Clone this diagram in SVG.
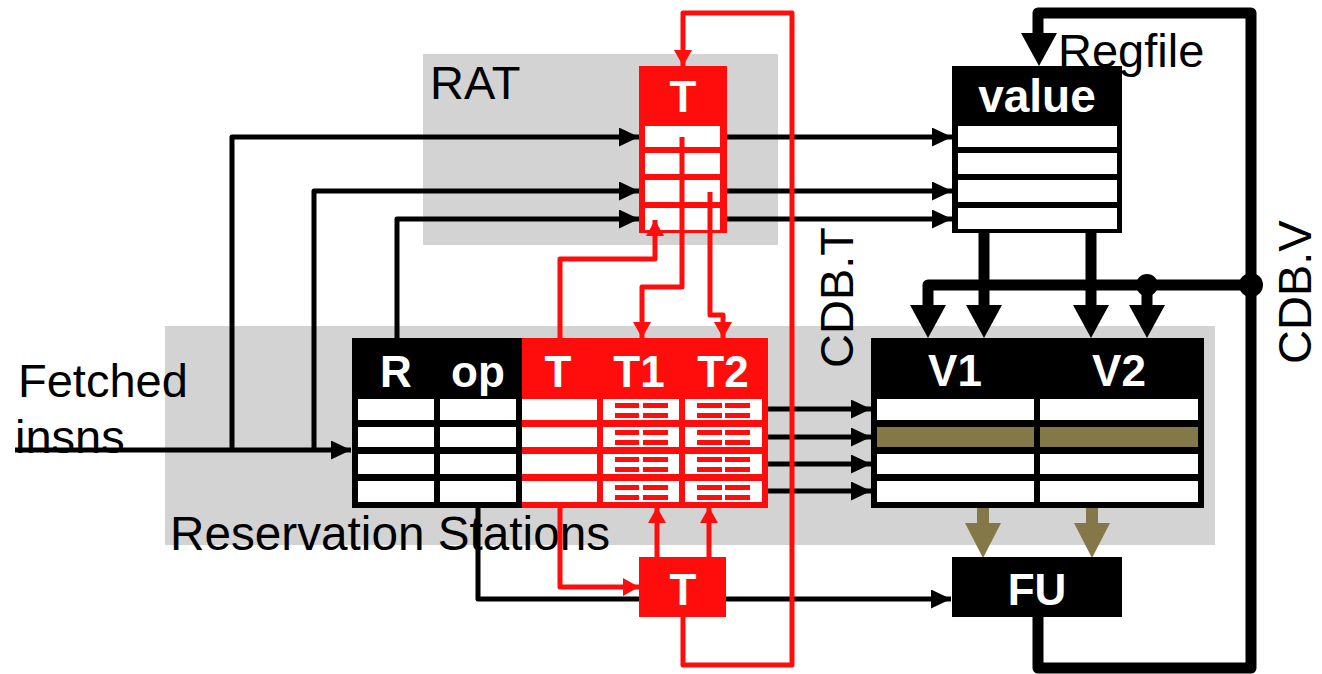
<svg xmlns="http://www.w3.org/2000/svg" width="1322" height="674" viewBox="0 0 1322 674">
<defs>
<style>
.lbl{font-family:"Liberation Sans",Arial,sans-serif;font-size:47px;fill:#000}
.hd{font-family:"Liberation Sans",Arial,sans-serif;font-size:44px;font-weight:bold;fill:#fff;text-anchor:middle}
.bk{fill:none;stroke:#000;stroke-width:5;stroke-linejoin:round}
.rd{fill:none;stroke:#FF0D0D;stroke-width:5;stroke-linejoin:round}
.tk{fill:none;stroke:#000;stroke-width:11;stroke-linejoin:round}
.cell{fill:#fff}
.red{fill:#FF0D0D}
.olive{fill:#857848}
.gray{fill:#D3D3D3}
</style>
<marker id="ab" markerUnits="userSpaceOnUse" markerWidth="21" markerHeight="19" refX="20" refY="9.5" orient="auto"><path d="M0,0 L20,9.5 L0,19 z" fill="#000"/></marker>
<marker id="ar" markerUnits="userSpaceOnUse" markerWidth="17" markerHeight="18" refX="16" refY="9" orient="auto"><path d="M0,0 L16,9 L0,18 z" fill="#FF0D0D"/></marker>
</defs>
<rect width="1322" height="674" fill="#fff"/>
<g id="backgrounds">
<rect class="gray" x="423" y="54" width="355" height="191"/>
<rect class="gray" x="165" y="326" width="1050" height="219"/>
</g>
<g id="labels">
<text class="lbl" x="430" y="99">RAT</text>
<text class="lbl" x="1058" y="67">Regfile</text>
<text class="lbl" x="18" y="397">Fetched</text>
<text class="lbl" x="15" y="453">insns</text>
<text class="lbl" x="170" y="550" style="font-size:47.7px">Reservation Stations</text>
<text class="lbl" transform="translate(853,368) rotate(-90)">CDB.T</text>
<text class="lbl" transform="translate(1311,364) rotate(-90)">CDB.V</text>
</g>
<g id="connectors">
<path class="bk" d="M15,450 H351" marker-end="url(#ab)"/>
<path class="bk" d="M232,450 V137 H639" marker-end="url(#ab)"/>
<path class="bk" d="M314,450 V191 H639" marker-end="url(#ab)"/>
<path class="bk" d="M397,338 V219 H639" marker-end="url(#ab)"/>
<path class="bk" d="M727,137 H952" marker-end="url(#ab)"/>
<path class="bk" d="M727,191 H952" marker-end="url(#ab)"/>
<path class="bk" d="M727,219 H952" marker-end="url(#ab)"/>
<path class="bk" d="M768,409 H871" marker-end="url(#ab)"/>
<path class="bk" d="M768,437 H871" marker-end="url(#ab)"/>
<path class="bk" d="M768,464 H871" marker-end="url(#ab)"/>
<path class="bk" d="M768,491 H871" marker-end="url(#ab)"/>
<path class="bk" d="M478,508 V599 H951" marker-end="url(#ab)"/>
<path class="tk" d="M1038,617 V668 H1251 V13 H1038 V36"/>
<polygon points="1021,33 1057,33 1039,66" fill="#000"/>
<path class="tk" d="M1251,285 H928 V306"/>
<polygon points="910,305 946,305 928,338" fill="#000"/>
<path class="tk" d="M1147,285 V306"/>
<polygon points="1129,305 1165,305 1147,338" fill="#000"/>
<path class="tk" d="M984,233 V306"/>
<polygon points="966,305 1002,305 984,338" fill="#000"/>
<path class="tk" d="M1091,233 V306"/>
<polygon points="1073,305 1109,305 1091,338" fill="#000"/>
<circle cx="1251" cy="285" r="12" fill="#000"/>
<circle cx="1147" cy="285" r="11" fill="#000"/>
<rect class="olive" x="977" y="506" width="12" height="18"/>
<polygon class="olive" points="965,523 1001,523 983,558"/>
<rect class="olive" x="1086" y="506" width="12" height="18"/>
<polygon class="olive" points="1074,523 1110,523 1092,558"/>
</g>
<g id="rat">
<rect class="red" x="639" y="66" width="88" height="167"/>
<rect class="cell" x="645" y="126" width="75" height="21"/>
<rect class="cell" x="645" y="153" width="75" height="21"/>
<rect class="cell" x="645" y="180" width="75" height="22"/>
<rect class="cell" x="645" y="208" width="75" height="22"/>
<text class="hd" x="683" y="112">T</text>
</g>
<g id="regfile">
<rect x="952" y="66" width="170" height="167" fill="#000"/>
<rect class="cell" x="958" y="126" width="159" height="21"/>
<rect class="cell" x="958" y="153" width="159" height="21"/>
<rect class="cell" x="958" y="180" width="159" height="22"/>
<rect class="cell" x="958" y="208" width="159" height="21"/>
<text class="hd" x="1037" y="112" style="font-size:46px">value</text>
</g>
<g id="rs-table">
<rect x="352" y="338" width="170" height="170" fill="#000"/>
<rect class="red" x="522" y="338" width="246" height="170"/>
<g id="rs-cells">
<rect class="cell" x="358" y="399" width="76" height="21"/><rect class="cell" x="440" y="399" width="76" height="21"/><rect class="cell" x="522" y="399" width="75" height="21"/><rect class="cell" x="603" y="399" width="76" height="21"/><rect class="cell" x="685" y="399" width="77" height="21"/>
<rect class="cell" x="358" y="427" width="76" height="20"/><rect class="cell" x="440" y="427" width="76" height="20"/><rect class="cell" x="522" y="427" width="75" height="20"/><rect class="cell" x="603" y="427" width="76" height="20"/><rect class="cell" x="685" y="427" width="77" height="20"/>
<rect class="cell" x="358" y="454" width="76" height="20"/><rect class="cell" x="440" y="454" width="76" height="20"/><rect class="cell" x="522" y="454" width="75" height="20"/><rect class="cell" x="603" y="454" width="76" height="20"/><rect class="cell" x="685" y="454" width="77" height="20"/>
<rect class="cell" x="358" y="481" width="76" height="21"/><rect class="cell" x="440" y="481" width="76" height="21"/><rect class="cell" x="522" y="481" width="75" height="21"/><rect class="cell" x="603" y="481" width="76" height="21"/><rect class="cell" x="685" y="481" width="77" height="21"/>
</g>
<g id="tag-bars" class="red">
<rect x="615" y="403" width="24" height="5"/><rect x="643" y="403" width="25" height="5"/><rect x="615" y="413" width="24" height="5"/><rect x="643" y="413" width="25" height="5"/>
<rect x="697" y="403" width="25" height="5"/><rect x="725" y="403" width="25" height="5"/><rect x="697" y="413" width="25" height="5"/><rect x="725" y="413" width="25" height="5"/>
<rect x="615" y="430" width="24" height="5"/><rect x="643" y="430" width="25" height="5"/><rect x="615" y="440" width="24" height="5"/><rect x="643" y="440" width="25" height="5"/>
<rect x="697" y="430" width="25" height="5"/><rect x="725" y="430" width="25" height="5"/><rect x="697" y="440" width="25" height="5"/><rect x="725" y="440" width="25" height="5"/>
<rect x="615" y="457" width="24" height="5"/><rect x="643" y="457" width="25" height="5"/><rect x="615" y="467" width="24" height="5"/><rect x="643" y="467" width="25" height="5"/>
<rect x="697" y="457" width="25" height="5"/><rect x="725" y="457" width="25" height="5"/><rect x="697" y="467" width="25" height="5"/><rect x="725" y="467" width="25" height="5"/>
<rect x="615" y="485" width="24" height="5"/><rect x="643" y="485" width="25" height="5"/><rect x="615" y="495" width="24" height="5"/><rect x="643" y="495" width="25" height="5"/>
<rect x="697" y="485" width="25" height="5"/><rect x="725" y="485" width="25" height="5"/><rect x="697" y="495" width="25" height="5"/><rect x="725" y="495" width="25" height="5"/>
</g>
<text class="hd" x="396" y="387">R</text>
<text class="hd" x="478" y="387">op</text>
<text class="hd" x="558" y="387">T</text>
<text class="hd" x="639" y="387">T1</text>
<text class="hd" x="723" y="387">T2</text>
</g>
<g id="v-table">
<rect x="871" y="338" width="333" height="170" fill="#000"/>
<rect class="cell" x="877" y="399" width="157" height="21"/><rect class="cell" x="1040" y="399" width="158" height="21"/>
<rect class="olive" x="877" y="427" width="157" height="20"/><rect class="olive" x="1040" y="427" width="158" height="20"/>
<rect class="cell" x="877" y="454" width="157" height="20"/><rect class="cell" x="1040" y="454" width="158" height="20"/>
<rect class="cell" x="877" y="481" width="157" height="21"/><rect class="cell" x="1040" y="481" width="158" height="21"/>
<text class="hd" x="955" y="386">V1</text>
<text class="hd" x="1119" y="386">V2</text>
</g>
<g id="fu">
<rect x="952" y="557" width="170" height="60" fill="#000"/>
<text class="hd" x="1037" y="605">FU</text>
</g>
<g id="t-bottom">
<rect class="red" x="639" y="557" width="87" height="60"/>
<text class="hd" x="683" y="605">T</text>
</g>
<g id="red-connectors">
<path class="rd" d="M683,617 V665 H792 V13 H683 V66" marker-end="url(#ar)"/>
<path class="rd" d="M682,137 V287 H642 V338" marker-end="url(#ar)"/>
<path class="rd" d="M710,192 V315 H723 V338" marker-end="url(#ar)"/>
<path class="rd" d="M560,338 V259 H655 V220" marker-end="url(#ar)"/>
<path class="rd" d="M657,557 V507" marker-end="url(#ar)"/>
<path class="rd" d="M709,557 V507" marker-end="url(#ar)"/>
<path class="rd" d="M560,508 V587 H639" marker-end="url(#ar)"/>
</g>
</svg>
